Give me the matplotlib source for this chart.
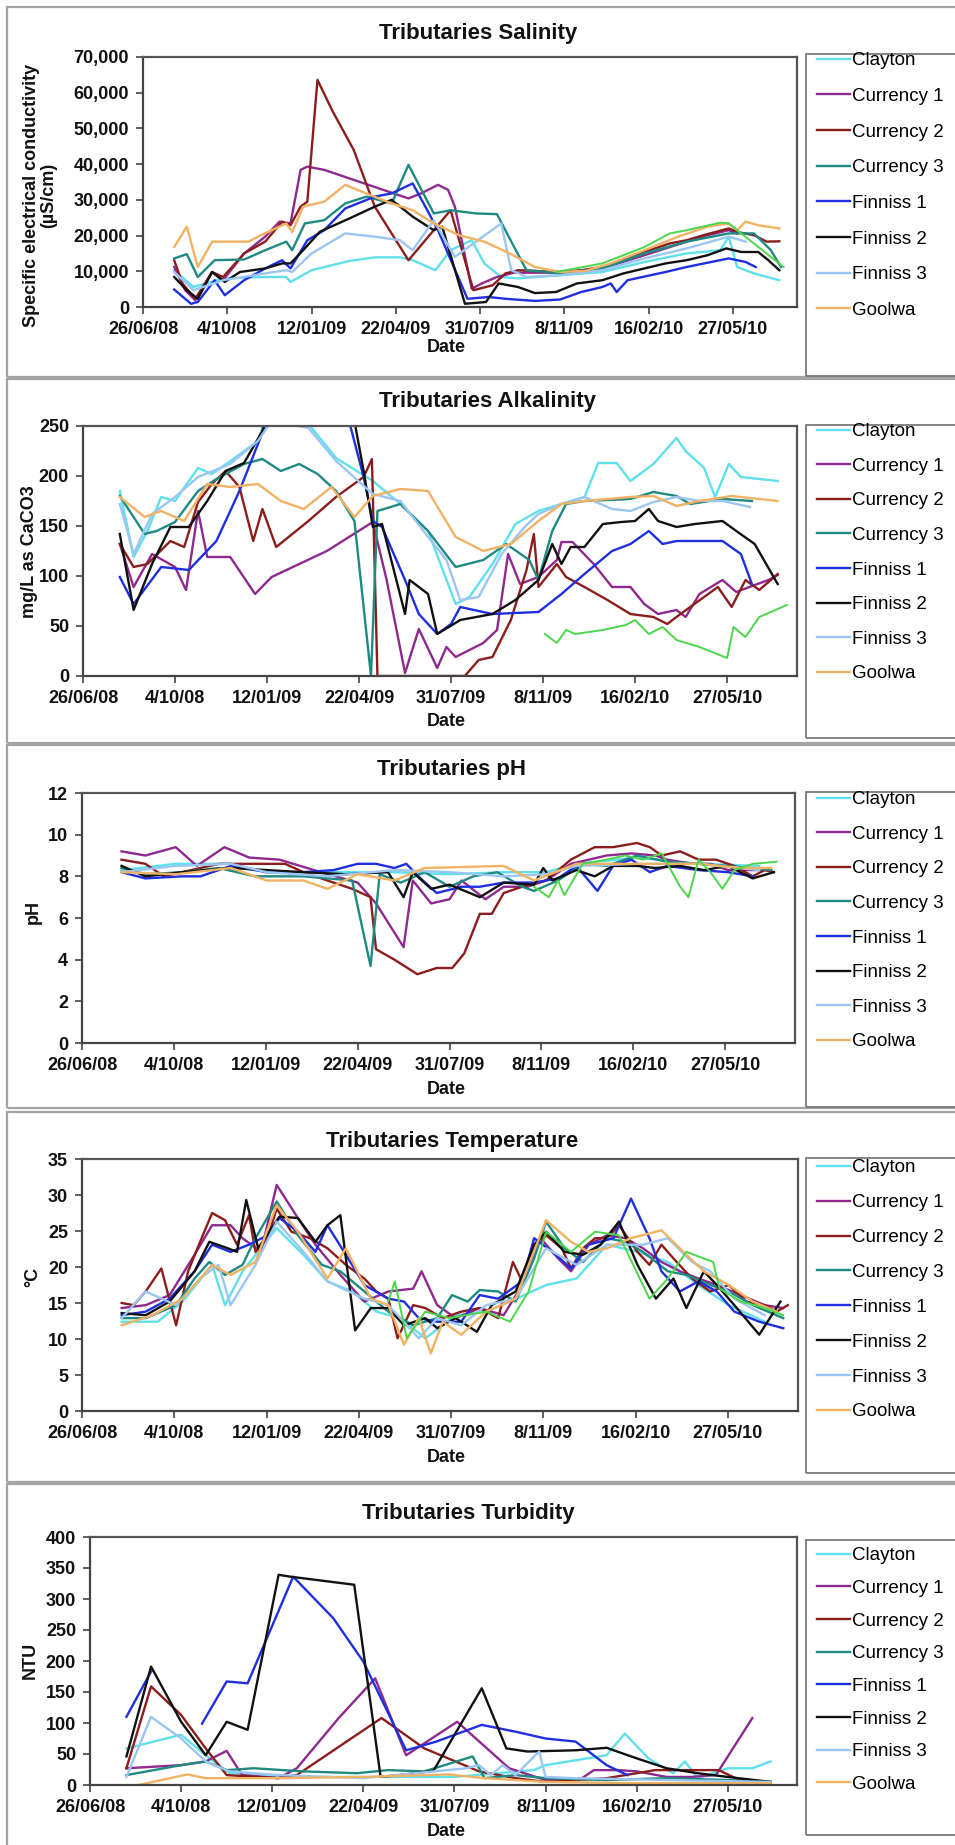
import matplotlib
matplotlib.use("Agg")
import matplotlib.pyplot as plt
import numpy as np
from matplotlib.patches import Rectangle
from matplotlib.ticker import FuncFormatter

plt.rcParams['font.family'] = ['Liberation Sans', 'DejaVu Sans']

W, H = 955, 1845

# ---- data (x = days since 26/06/08) ----
site_names = ["Clayton", "Currency 1", "Currency 2", "Currency 3",
              "Finniss 1", "Finniss 2", "Finniss 3", "Goolwa"]
tick_days = [0, 100, 200, 300, 400, 500, 600, 700]
tick_labels = ["26/06/08", "4/10/08", "12/01/09", "22/04/09",
               "31/07/09", "8/11/09", "16/02/10", "27/05/10"]

# salinity (uS/cm)
sal_clayton = [(37, 10300), (60, 5600), (95, 8000), (145, 8400), (170, 8400), (175, 7000), (200, 10300),
               (245, 12900), (275, 13900), (305, 13900), (320, 13100), (347, 10300), (365, 15900),
               (390, 18700), (405, 12200), (425, 8400), (445, 8000), (495, 8900), (545, 9800),
               (595, 12600), (645, 15000), (685, 15900), (695, 19700), (705, 11200), (725, 9400), (755, 7500)]
sal_cur1 = [(37, 11200), (50, 4700), (62, 1900), (82, 9800), (95, 7500), (120, 15000), (145, 19700),
            (162, 23900), (175, 23400), (187, 38400), (195, 39300), (215, 38400), (245, 36000),
            (285, 32800), (315, 30400), (330, 31800), (350, 34200), (362, 32800), (370, 28100),
            (390, 5100), (402, 6600), (420, 8400), (440, 9600), (495, 9600), (545, 10800),
            (595, 14500), (645, 18300), (670, 20100), (695, 21500), (705, 20600)]
sal_cur2 = [(37, 13100), (47, 6500), (62, 2300), (82, 9800), (95, 8400), (120, 15000), (145, 18300),
            (165, 23900), (175, 22900), (187, 28100), (195, 29500), (207, 63600), (225, 54800),
            (250, 44000), (275, 28100), (315, 13100), (345, 21500), (365, 27100), (392, 4700),
            (415, 6100), (430, 9400), (445, 10300), (495, 9800), (520, 10300), (545, 11200),
            (570, 13100), (595, 15400), (625, 17800), (645, 18700), (665, 20100), (695, 22000),
            (705, 21000), (725, 20100), (740, 18300), (755, 18400)]
sal_cur3 = [(37, 13600), (52, 14800), (65, 8400), (85, 13100), (120, 13300), (145, 15900), (170, 18300),
            (177, 15900), (192, 23400), (215, 24300), (240, 29000), (265, 30900), (295, 29000),
            (315, 39800), (345, 26200), (365, 27100), (395, 26200), (420, 26000), (437, 18300),
            (455, 10300), (495, 9500), (545, 10800), (595, 15000), (645, 18300), (695, 20600),
            (725, 20600), (745, 15900), (757, 11200)]
sal_fin1 = [(37, 4900), (57, 900), (65, 1400), (85, 7500), (97, 3300), (120, 7500), (145, 10800),
            (165, 13100), (175, 10800), (195, 18700), (215, 21500), (240, 27600), (275, 30900),
            (295, 31800), (320, 34600), (335, 28100), (350, 21500), (385, 2300), (410, 2800),
            (430, 2300), (465, 1700), (495, 2100), (520, 4200), (545, 5600), (555, 6600), (562, 4200),
            (575, 7500), (620, 9800), (645, 11200), (670, 12400), (695, 13600), (715, 12600), (727, 11200)]
sal_fin2 = [(37, 8400), (52, 4700), (65, 2300), (82, 9800), (97, 7000), (115, 9800), (145, 10800),
            (165, 12200), (175, 12200), (190, 15900), (210, 21100), (245, 24800), (275, 28100),
            (295, 30000), (320, 25300), (345, 21500), (355, 22500), (382, 900), (407, 1400),
            (422, 6600), (445, 5600), (465, 3900), (490, 4200), (515, 6600), (545, 7500), (570, 9400),
            (595, 10800), (620, 12200), (645, 13100), (670, 14500), (692, 16400), (710, 15400),
            (730, 15400), (742, 13100), (755, 10300)]
sal_fin3 = [(37, 9800), (60, 4700), (95, 7500), (145, 9400), (170, 10300), (177, 9800), (200, 15000),
            (240, 20600), (275, 19700), (305, 18700), (320, 15900), (345, 24300), (370, 14000),
            (425, 23400), (437, 10300), (455, 8400), (495, 8900), (545, 10300), (595, 13600),
            (645, 16400), (695, 19700), (715, 18300)]
sal_goolwa = [(37, 16800), (52, 22500), (65, 11200), (82, 18300), (125, 18300), (140, 20100),
              (170, 23400), (177, 21000), (190, 28100), (215, 29500), (240, 34200), (265, 31800),
              (295, 29000), (320, 27100), (345, 23400), (375, 20100), (405, 18300), (435, 15000),
              (465, 11200), (495, 9800), (525, 10100), (555, 12200), (595, 15900), (635, 19700),
              (670, 22500), (695, 23400), (705, 21500), (715, 23900), (730, 22900), (755, 22000)]
sal_other = [(490, 9800), (545, 12200), (595, 16800), (625, 20600), (645, 21500), (685, 23600),
             (695, 23400), (720, 18700), (760, 11200)]

# alkalinity (mg/L as CaCO3)
alk_clayton = [(40, 185), (55, 119), (70, 145), (85, 179), (100, 175), (125, 208), (140, 202), (165, 218),
               (190, 235), (200, 262), (245, 252), (275, 218), (315, 195), (345, 172), (375, 145),
               (405, 72), (420, 79), (445, 112), (470, 152), (495, 165), (520, 172), (545, 179),
               (560, 213), (580, 213), (595, 195), (620, 212), (645, 238), (655, 225), (675, 208),
               (687, 179), (702, 212), (715, 199), (755, 195)]
alk_cur1 = [(40, 132), (55, 89), (75, 122), (100, 109), (112, 86), (125, 165), (135, 119), (160, 119),
            (187, 82), (205, 99), (265, 125), (315, 154), (330, 96), (350, 3), (365, 47), (385, 8),
            (395, 29), (405, 19), (435, 33), (450, 46), (462, 122), (475, 92), (495, 99), (515, 116),
            (520, 134), (532, 134), (555, 112), (575, 89), (595, 89), (610, 72), (625, 62), (645, 66),
            (655, 59), (670, 82), (695, 96), (710, 84), (730, 91), (745, 96), (755, 101)]
alk_cur2 = [(40, 132), (55, 109), (70, 112), (95, 135), (110, 129), (125, 174), (140, 192), (155, 205),
            (170, 189), (185, 135), (195, 167), (210, 129), (245, 155), (275, 179), (305, 199),
            (314, 217), (320, 0), (345, 0), (415, 0), (430, 16), (445, 19), (465, 56), (482, 106),
            (490, 142), (495, 89), (515, 112), (525, 99), (545, 89), (570, 76), (595, 62), (620, 59),
            (635, 52), (645, 59), (660, 69), (675, 79), (690, 89), (705, 69), (720, 96), (735, 86), (755, 102)]
alk_cur3 = [(40, 180), (67, 142), (80, 145), (100, 154), (125, 185), (145, 197), (175, 212), (195, 217),
            (215, 205), (235, 212), (255, 202), (275, 185), (295, 155), (313, 0), (320, 165),
            (345, 172), (375, 145), (405, 109), (435, 116), (460, 132), (485, 116), (495, 96),
            (510, 145), (525, 172), (545, 175), (595, 177), (620, 184), (645, 180), (660, 172),
            (695, 177), (727, 175)]
alk_fin1 = [(40, 99), (55, 72), (85, 109), (115, 106), (145, 135), (170, 185), (200, 255), (270, 270),
            (290, 252), (305, 199), (315, 155), (325, 149), (350, 96), (365, 62), (385, 42), (400, 52),
            (410, 69), (425, 66), (445, 62), (495, 64), (520, 82), (545, 102), (575, 125), (595, 132),
            (615, 145), (630, 132), (645, 135), (695, 135), (715, 122), (727, 92)]
alk_fin2 = [(40, 142), (55, 66), (75, 112), (95, 149), (115, 149), (135, 175), (155, 205), (175, 213),
            (195, 245), (200, 262), (295, 255), (305, 205), (315, 149), (325, 152), (350, 62),
            (355, 96), (375, 82), (385, 42), (410, 56), (445, 62), (470, 76), (495, 96), (510, 132),
            (520, 112), (530, 129), (545, 129), (565, 152), (585, 154), (600, 155), (615, 167),
            (625, 155), (645, 149), (665, 152), (695, 155), (710, 145), (730, 132), (755, 92)]
alk_fin3 = [(40, 172), (55, 122), (75, 162), (100, 179), (125, 199), (160, 212), (190, 235), (205, 255),
            (245, 248), (275, 215), (315, 182), (345, 175), (370, 145), (395, 116), (410, 76),
            (430, 79), (455, 122), (480, 149), (495, 162), (520, 172), (545, 179), (575, 167),
            (595, 165), (620, 174), (645, 179), (670, 175), (695, 175), (725, 169)]
alk_goolwa = [(40, 179), (67, 159), (85, 165), (110, 155), (135, 192), (160, 189), (190, 192), (215, 175),
              (240, 167), (270, 189), (295, 159), (315, 180), (345, 187), (375, 185), (405, 139),
              (435, 125), (465, 132), (495, 155), (520, 172), (545, 175), (595, 179), (620, 180),
              (645, 170), (670, 175), (705, 180), (755, 175)]
alk_other = [(502, 42), (515, 33), (525, 46), (535, 42), (565, 46), (590, 51), (600, 56), (615, 42),
             (630, 49), (645, 36), (670, 29), (700, 18), (707, 49), (720, 39), (735, 59), (765, 71)]

# pH
ph_clayton = [(43, 8.3), (102, 8.6), (162, 8.6), (201, 8.2), (267, 8.2), (340, 8.2), (400, 8.1),
              (459, 8.2), (505, 8.2), (538, 8.6), (604, 8.9), (671, 8.6), (737, 8.5)]
ph_cur1 = [(43, 9.2), (69, 9.0), (102, 9.4), (125, 8.5), (155, 9.4), (182, 8.9), (215, 8.8), (260, 8.2),
           (300, 7.7), (320, 6.7), (350, 4.6), (360, 7.8), (380, 6.7), (400, 6.9), (413, 7.8),
           (439, 6.9), (459, 7.5), (485, 7.5), (505, 7.8), (532, 8.6), (571, 9.0), (598, 9.1),
           (624, 9.0), (637, 8.8), (664, 8.6), (684, 8.6), (703, 8.3), (750, 8.3)]
ph_cur2 = [(43, 8.8), (69, 8.6), (89, 8.0), (109, 8.2), (149, 8.6), (188, 8.6), (221, 8.6), (241, 8.2),
           (267, 7.8), (294, 7.4), (314, 7.0), (320, 4.5), (340, 4.0), (365, 3.3), (386, 3.6),
           (403, 3.6), (416, 4.3), (433, 6.2), (446, 6.2), (459, 7.2), (479, 7.5), (505, 7.8),
           (532, 8.8), (558, 9.4), (578, 9.4), (604, 9.6), (618, 9.4), (631, 9.0), (651, 9.2),
           (671, 8.8), (690, 8.8), (710, 8.5), (730, 8.0), (743, 8.3), (753, 8.2)]
ph_cur3 = [(43, 8.4), (69, 8.1), (109, 8.2), (149, 8.4), (188, 8.0), (241, 8.0), (294, 7.8), (314, 3.7),
           (324, 8.1), (347, 7.7), (373, 8.2), (400, 7.5), (426, 8.0), (452, 8.2), (479, 7.5),
           (492, 7.3), (518, 7.8), (545, 8.6), (571, 8.5), (604, 9.0), (637, 8.7), (671, 8.6),
           (703, 8.5), (750, 8.3)]
ph_fin1 = [(43, 8.2), (69, 7.9), (109, 8.0), (129, 8.0), (162, 8.5), (201, 8.2), (241, 8.2), (274, 8.3),
           (300, 8.6), (320, 8.6), (340, 8.4), (353, 8.6), (366, 8.0), (386, 7.2), (413, 7.5),
           (433, 7.5), (459, 7.7), (492, 7.7), (518, 7.9), (538, 8.5), (561, 7.3), (578, 8.5),
           (598, 8.8), (618, 8.2), (637, 8.5), (671, 8.3), (703, 8.2), (730, 8.0)]
ph_fin2 = [(43, 8.5), (69, 8.0), (109, 8.2), (162, 8.4), (201, 8.3), (241, 8.2), (287, 8.1), (333, 8.2),
           (350, 7.0), (360, 8.2), (380, 7.4), (400, 7.6), (433, 7.0), (459, 7.7), (492, 7.6),
           (502, 8.4), (512, 7.8), (538, 8.3), (558, 8.0), (578, 8.5), (604, 8.5), (624, 8.4),
           (651, 8.5), (677, 8.3), (703, 8.5), (730, 7.9), (753, 8.2)]
ph_fin3 = [(43, 8.2), (102, 8.5), (162, 8.6), (201, 8.2), (267, 8.0), (340, 8.3), (400, 8.2), (459, 8.0),
           (505, 8.1), (538, 8.5), (604, 8.6), (671, 8.6), (737, 8.3)]
ph_goolwa = [(43, 8.2), (102, 8.1), (162, 8.4), (201, 7.8), (241, 7.8), (267, 7.4), (300, 8.1),
             (340, 7.8), (373, 8.4), (459, 8.5), (492, 7.8), (538, 8.6), (604, 8.6), (671, 8.6),
             (717, 8.4), (750, 8.4)]
ph_other = [(492, 7.5), (508, 7.0), (518, 7.8), (525, 7.1), (545, 8.6), (571, 8.8), (591, 9.0),
            (611, 8.8), (631, 9.1), (651, 7.5), (660, 7.0), (671, 8.8), (684, 8.2), (697, 7.4),
            (710, 8.3), (730, 8.6), (756, 8.7)]

# temperature (deg C)
tmp_clayton = [(43, 12.4), (82, 12.4), (109, 15.2), (141, 20.3), (155, 14.7), (174, 19.4), (211, 25.4),
               (240, 21.7), (266, 18.0), (293, 16.6), (319, 13.8), (345, 12.9), (372, 10.1),
               (405, 13.3), (438, 13.8), (464, 15.2), (503, 17.5), (536, 18.4), (569, 23.1),
               (602, 22.1), (635, 20.7), (668, 17.5), (701, 14.7), (740, 12.4)]
tmp_cur1 = [(43, 14.3), (69, 14.7), (95, 16.1), (122, 21.7), (141, 25.8), (161, 25.8), (174, 24.0),
            (194, 22.1), (211, 31.4), (234, 26.8), (253, 23.1), (280, 18.9), (306, 15.2), (332, 16.6),
            (359, 17.0), (368, 19.4), (385, 14.7), (405, 12.9), (431, 14.3), (457, 13.3), (477, 17.5),
            (497, 24.0), (516, 21.2), (530, 19.4), (549, 23.1), (569, 24.4), (589, 24.0), (608, 22.6),
            (628, 20.7), (648, 19.4), (668, 18.4), (688, 17.5), (714, 16.1), (740, 14.7), (760, 14.3)]
tmp_cur2 = [(43, 15.0), (56, 14.7), (69, 16.6), (86, 19.8), (102, 11.9), (115, 19.4), (128, 23.5),
            (141, 27.5), (155, 26.5), (168, 23.1), (181, 27.2), (188, 22.1), (201, 24.0), (211, 28.1),
            (227, 24.9), (247, 24.0), (266, 22.6), (286, 20.3), (306, 18.4), (319, 16.6), (332, 15.6),
            (342, 10.1), (359, 14.7), (372, 14.3), (391, 12.9), (411, 13.8), (431, 14.3), (451, 12.9),
            (467, 20.7), (477, 18.0), (490, 22.6), (503, 24.4), (520, 22.6), (530, 19.8), (543, 22.6),
            (556, 24.0), (569, 24.0), (582, 25.8), (602, 22.1), (615, 20.3), (628, 23.1), (641, 21.2),
            (661, 18.4), (681, 16.6), (701, 17.5), (720, 15.2), (740, 14.7), (753, 13.8), (765, 14.7)]
tmp_cur3 = [(43, 12.9), (69, 12.9), (102, 14.7), (122, 18.4), (138, 20.7), (155, 18.9), (174, 20.3),
            (188, 24.0), (211, 29.1), (234, 24.4), (260, 20.3), (280, 19.4), (306, 16.6), (332, 13.8),
            (359, 11.9), (385, 12.9), (401, 16.1), (418, 15.2), (431, 16.8), (451, 16.6), (470, 15.2),
            (490, 21.2), (503, 26.3), (523, 22.6), (543, 20.7), (569, 24.0), (589, 23.5), (608, 22.1),
            (635, 19.4), (655, 18.9), (681, 17.5), (701, 16.6), (727, 14.7), (760, 12.9)]
tmp_fin1 = [(43, 13.3), (69, 13.8), (95, 15.6), (122, 19.4), (141, 23.1), (161, 22.1), (181, 23.1),
            (201, 24.4), (214, 26.8), (234, 24.9), (253, 22.1), (266, 25.8), (286, 21.7), (306, 17.5),
            (332, 15.6), (349, 15.2), (365, 12.9), (385, 12.4), (411, 12.4), (431, 16.1), (451, 15.6),
            (477, 18.0), (490, 24.0), (510, 22.1), (530, 19.8), (549, 23.1), (576, 24.0), (595, 29.5),
            (615, 24.0), (628, 19.4), (648, 16.6), (668, 18.0), (688, 16.6), (707, 13.8), (734, 12.4),
            (760, 11.5)]
tmp_fin2 = [(43, 13.6), (69, 13.3), (95, 15.2), (122, 19.4), (138, 23.5), (158, 22.6), (168, 22.1),
            (178, 29.3), (191, 22.6), (214, 27.0), (234, 26.8), (253, 23.5), (266, 25.8), (280, 27.2),
            (296, 11.2), (313, 14.3), (332, 14.3), (349, 11.9), (372, 12.9), (385, 11.5), (405, 12.9),
            (428, 11.0), (444, 14.7), (470, 16.6), (490, 23.1), (503, 24.9), (523, 22.1), (543, 21.7),
            (562, 23.1), (582, 26.3), (602, 20.3), (622, 15.6), (641, 18.4), (655, 14.3), (674, 19.4),
            (688, 17.5), (707, 14.7), (734, 10.6), (757, 15.2)]
tmp_fin3 = [(43, 12.9), (69, 16.6), (102, 14.7), (128, 18.4), (148, 20.3), (161, 14.7), (188, 20.3),
            (211, 26.3), (240, 22.1), (266, 18.0), (306, 15.6), (332, 14.7), (365, 10.1), (385, 12.9),
            (411, 11.9), (438, 14.7), (470, 15.6), (503, 22.6), (536, 20.3), (569, 23.1), (608, 23.1),
            (635, 24.0), (661, 20.7), (681, 19.4), (707, 15.6), (740, 13.3)]
tmp_goolwa = [(43, 11.9), (76, 13.3), (109, 15.6), (141, 20.3), (161, 18.9), (188, 20.7), (211, 28.6),
              (234, 24.9), (266, 18.4), (286, 22.6), (313, 15.6), (332, 14.7), (349, 9.2), (365, 12.9),
              (378, 8.0), (391, 12.4), (411, 10.6), (438, 13.8), (470, 15.6), (503, 26.5), (530, 23.5),
              (549, 22.1), (569, 22.6), (595, 24.0), (628, 25.1), (655, 21.7), (674, 19.4), (701, 17.5),
              (727, 15.2), (753, 13.8)]
tmp_other = [(332, 15.2), (339, 18.0), (352, 10.1), (372, 13.8), (398, 12.9), (438, 13.8), (464, 12.4),
             (484, 16.6), (503, 24.9), (530, 22.1), (556, 24.9), (582, 24.4), (615, 15.6), (635, 18.4),
             (655, 22.1), (684, 20.7), (691, 17.0), (714, 15.2), (740, 14.3), (760, 13.3)]

# turbidity (NTU), None = missing sample
tur_clayton = [(40, 59), (100, 81), (127, 48), (153, 19), (207, 13), (300, 13), (400, 13), (487, 24),
               (500, 32), (567, 48), (587, 83), (613, 43), (640, 19), (653, 38), (667, 11), (700, 27),
               (727, 27), (747, 38)]
tur_cur1 = [(40, 27), (100, 32), (127, 38), (150, 55), (167, 16), (207, 11), (227, 27), (273, 108),
            (313, 172), (347, 48), (403, 102), (460, 27), (500, 8), (540, 11), (553, 24), (580, 24),
            (600, 22), (633, 13), (660, 13), (687, 16), (727, 108)]
tur_cur2 = [(40, 27), (67, 159), (100, 113), (127, 59), (150, 16), (207, 11), (227, 16), (320, 108),
            (367, 59), (427, 22), (467, 11), (500, 5), (567, 11), (600, 19), (620, 24), (667, 24),
            (690, 24), (713, 8), (747, 5)]
tur_cur3 = [(40, 16), (100, 32), (127, 38), (150, 24), (180, 27), (233, 22), (293, 19), (327, 24),
            (367, 22), (420, 46), (433, 11), (467, 16), (500, 11), (567, 8), (633, 11), (700, 8), (747, 5)]
tur_fin1 = [(40, 110), (67, 183), (95, None), (123, 99), (150, 167), (173, 164), (223, 336), (267, 269),
            (300, 199), (347, 56), (380, 70), (430, 97), (467, 86), (500, 75), (533, 70), (567, 32),
            (590, 16)]
tur_fin2 = [(40, 46), (67, 191), (100, 102), (127, 48), (150, 102), (173, 89), (207, 339), (220, 336),
            (290, 323), (319, 13), (340, 16), (377, 23), (430, 156), (457, 59), (480, 54), (533, 56),
            (567, 60), (600, 43), (633, 27), (667, 19), (700, 13), (747, 5)]
tur_fin3 = [(40, 13), (67, 110), (100, 75), (127, 38), (153, 22), (207, 16), (300, 11), (413, 27),
            (427, 32), (440, 16), (453, 32), (467, 16), (493, 54), (500, 13), (533, 11), (633, 8), (747, 5)]
tur_goolwa = [(53, 0), (107, 17), (127, 11), (207, 11), (300, 13), (393, 17), (433, 11), (500, 5),
              (600, 3), (747, 3)]

colors = ["#5fe0ea", "#8e2a8e", "#8c1d1d", "#1f8a82", "#1f2fe0", "#111111", "#9cc6f2", "#f2b264"]
other_color = "#4cd64c"

# ---- layout (pixels in the 955 x 1845 picture) ----
panels = [
    dict(series=[sal_clayton, sal_cur1, sal_cur2, sal_cur3, sal_fin1, sal_fin2, sal_fin3, sal_goolwa],
         other=sal_other, ylim=(0, 70000), ystep=10000, title="Tributaries Salinity",
         ylabel="Specific electrical conductivity\n(\u00b5S/cm)", comma=True,
         box=(143, 57, 797, 307), border=(7, 377), title_xy=(478, 33), ylab_xy=(40, 195),
         date_y=348, legend=(54, 376, 63, 40.1)),
    dict(series=[alk_clayton, alk_cur1, alk_cur2, alk_cur3, alk_fin1, alk_fin2, alk_fin3, alk_goolwa],
         other=alk_other, ylim=(0, 250), ystep=50, title="Tributaries Alkalinity",
         ylabel="mg/L as CaCO3", comma=False,
         box=(83, 426, 797, 676), border=(379, 743), title_xy=(487, 402), ylab_xy=(29, 552),
         date_y=722, legend=(425, 738, 434, 39.0)),
    dict(series=[ph_clayton, ph_cur1, ph_cur2, ph_cur3, ph_fin1, ph_fin2, ph_fin3, ph_goolwa],
         other=ph_other, ylim=(0, 12), ystep=2, title="Tributaries pH",
         ylabel="pH", comma=False,
         box=(82, 793, 795, 1043), border=(745, 1108), title_xy=(451, 770), ylab_xy=(33, 912),
         date_y=1090, legend=(792, 1107, 802, 39.0)),
    dict(series=[tmp_clayton, tmp_cur1, tmp_cur2, tmp_cur3, tmp_fin1, tmp_fin2, tmp_fin3, tmp_goolwa],
         other=tmp_other, ylim=(0, 35), ystep=5, title="Tributaries Temperature",
         ylabel="\u00b0C", comma=False,
         box=(82, 1159, 798, 1411), border=(1112, 1482), title_xy=(452, 1142), ylab_xy=(33, 1277),
         date_y=1458, legend=(1158, 1473, 1170, 39.3)),
    dict(series=[tur_clayton, tur_cur1, tur_cur2, tur_cur3, tur_fin1, tur_fin2, tur_fin3, tur_goolwa],
         other=None, ylim=(0, 400), ystep=50, title="Tributaries Turbidity",
         ylabel="NTU", comma=False,
         box=(90, 1537, 797, 1785), border=(1484, 1850), title_xy=(468, 1514), ylab_xy=(30, 1660),
         date_y=1831, legend=(1540, 1835, 1558, 37.1)),
]

fig = plt.figure(figsize=(W / 100, H / 100), dpi=100)


def fx(x):
    return x / W


def fy(y):
    return 1 - y / H


def unpack(pts):
    d = np.array([p[0] for p in pts], dtype=float)
    v = np.array([np.nan if p[1] is None else p[1] for p in pts], dtype=float)
    return d, v


legend_fs = 13.5
for p in panels:
    # chart area border
    top, bot = p["border"]
    fig.add_artist(Rectangle((fx(7), fy(bot)), fx(1100), (bot - top) / H, transform=fig.transFigure,
                             fill=False, ec="#a3a3a3", lw=1.6, clip_on=False))
    x0, y0, x1, y1 = p["box"]
    ax = fig.add_axes([fx(x0), fy(y1), (x1 - x0) / W, (y1 - y0) / H])
    handles = []
    for name, pts, col in zip(site_names, p["series"], colors):
        d, v = unpack(pts)
        ln, = ax.plot(d, v, color=col, lw=1.7, label=name)
        handles.append(ln)
    if p["other"] is not None:
        d, v = unpack(p["other"])
        ax.plot(d, v, color=other_color, lw=1.4)

    ax.set_xlim(0, 776)
    ax.set_ylim(*p["ylim"])
    ax.set_xticks(tick_days)
    ax.set_xticklabels(tick_labels)
    ax.set_yticks(np.arange(p["ylim"][0], p["ylim"][1] + p["ystep"] / 2, p["ystep"]))
    if p["comma"]:
        ax.yaxis.set_major_formatter(FuncFormatter(lambda v, pos: f"{v:,.0f}"))
    ax.tick_params(direction="out", length=5, width=1.2, color="#444444", pad=5,
                   labelsize=13, labelcolor="#111111")
    for lab in ax.get_xticklabels() + ax.get_yticklabels():
        lab.set_fontweight("bold")
    for side in ("top", "right"):
        ax.spines[side].set_color("#555555")
        ax.spines[side].set_linewidth(1.6)
    for side in ("left", "bottom"):
        ax.spines[side].set_color("#444444")
        ax.spines[side].set_linewidth(1.6)

    fig.text(fx(p["title_xy"][0]), fy(p["title_xy"][1]), p["title"], ha="center", va="center",
             fontsize=16, fontweight="bold", color="#111111")
    fig.text(fx(p["ylab_xy"][0]), fy(p["ylab_xy"][1]), p["ylabel"], ha="center", va="center",
             rotation=90, fontsize=13, fontweight="bold", color="#111111", linespacing=1.05)
    fig.text(fx(446), fy(p["date_y"]), "Date", ha="center", va="center",
             fontsize=13, fontweight="bold", color="#111111")

    # legend box and entries
    ltop, lbot, first, pitch = p["legend"]
    fig.add_artist(Rectangle((fx(806), fy(lbot)), fx(300), (lbot - ltop) / H, transform=fig.transFigure,
                             fill=False, ec="#7a7a7a", lw=1.3, clip_on=False))
    text_h = 1.15 * legend_fs * 100 / 72
    spacing = (pitch - text_h) / (legend_fs * 100 / 72)
    fig.legend(handles=handles, loc="upper left",
               bbox_to_anchor=(fx(817), fy(first - text_h / 2)), bbox_transform=fig.transFigure,
               frameon=False, fontsize=legend_fs, handlelength=1.76, handletextpad=0.12,
               labelspacing=spacing, borderpad=0, borderaxespad=0)

fig.savefig("out.png", dpi=100)
